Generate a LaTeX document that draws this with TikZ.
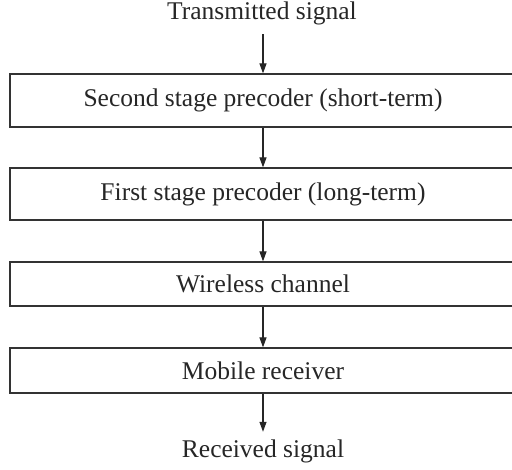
\documentclass[tikz,border=0pt]{standalone}
\usepackage{fontspec}
\setmainfont{Liberation Serif}
\usetikzlibrary{arrows.meta}
\begin{document}
\begin{tikzpicture}[x=1pt,y=1pt,
  box/.style={draw=black!80,line width=1.2pt,minimum width=506pt,inner sep=0pt,font=\fontsize{25.5}{30}\selectfont,text=black!85},
  lbl/.style={inner sep=0pt,text height=18pt,text depth=6pt,font=\fontsize{25.5}{30}\selectfont,text=black!85},
  arr/.style={draw=black!85,line width=1.2pt,-{Triangle[length=10pt,width=7pt]}}]
\useasboundingbox (0,0) rectangle (512,470);
\node[lbl,anchor=base] (ts) at (262,450) {Transmitted signal};
\node[box,minimum height=53pt] (b1) at (263,369.5) {Second stage precoder (short-term)};
\node[box,minimum height=52pt] (b2) at (263,276) {First stage precoder (long-term)};
\node[box,minimum height=44pt] (b3) at (263,186) {Wireless channel};
\node[box,minimum height=45pt] (b4) at (263,99.5) {Mobile receiver};
\node[lbl,anchor=base] (rs) at (263,12) {Received signal};
\draw[arr,shorten <=8pt] (ts.south-|b1.north) -- (b1.north);
\draw[arr] (b1.south) -- (b2.north);
\draw[arr] (b2.south) -- (b3.north);
\draw[arr] (b3.south) -- (b4.north);
\draw[arr,shorten >=8pt] (b4.south) -- (rs.north);
\end{tikzpicture}
\end{document}
